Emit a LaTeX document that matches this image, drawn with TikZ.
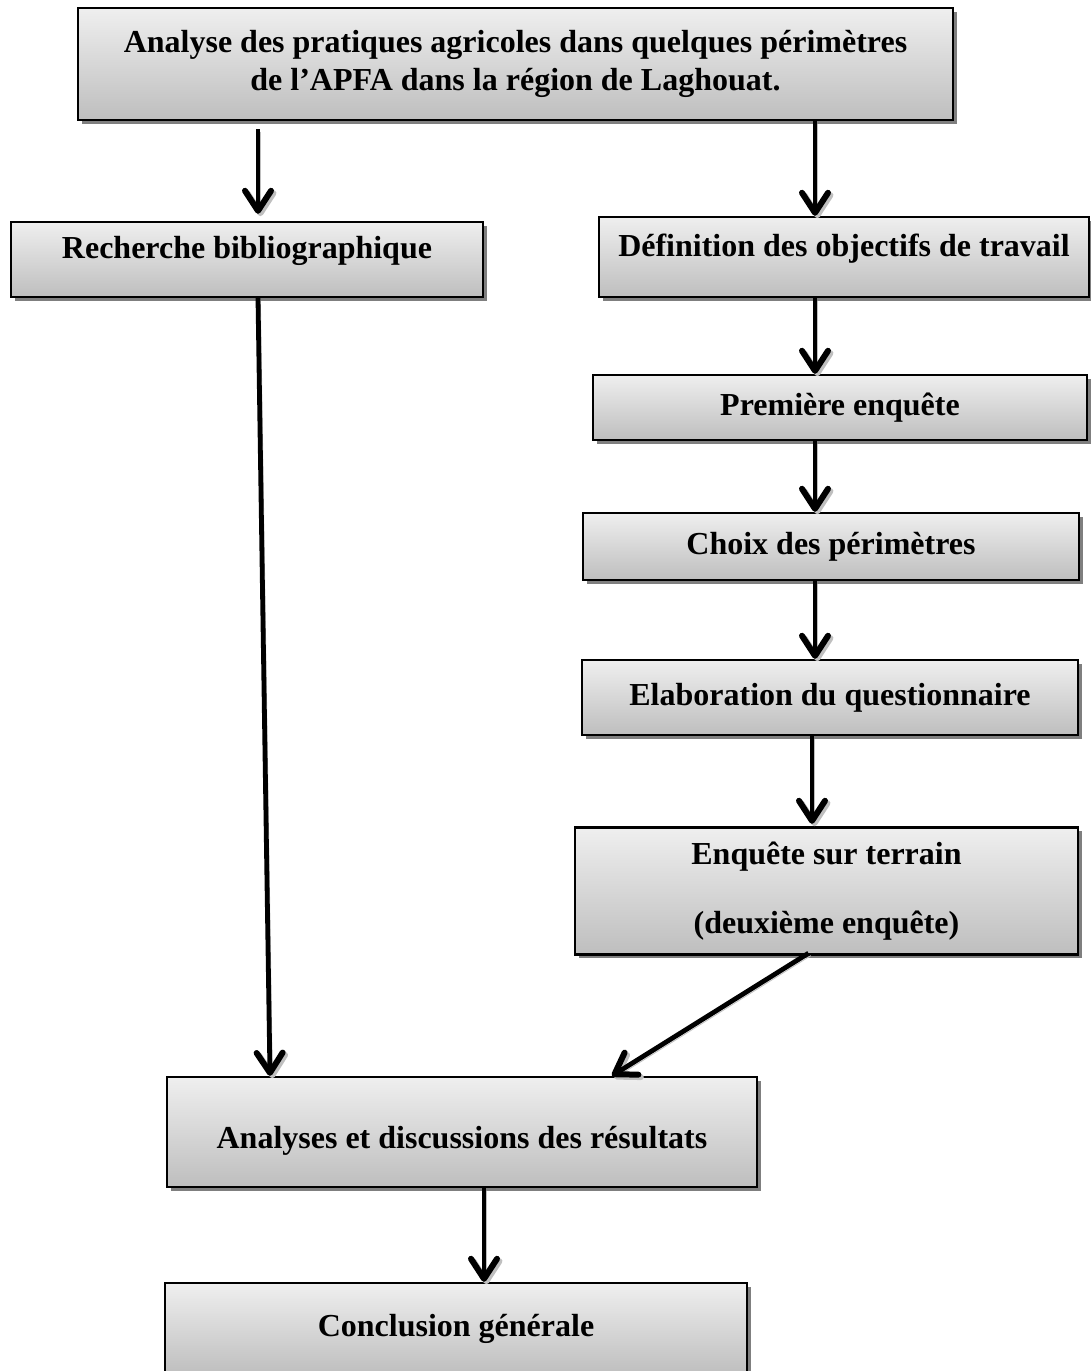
\documentclass[tikz,border=0pt]{standalone}
\usepackage{fontspec}
\setmainfont{Liberation Serif}
\usepackage{tikz}
\usetikzlibrary{arrows.meta, calc, positioning, shadows}
\definecolor{BoxTop}   {HTML}{EFEFEF}
\definecolor{BoxBottom}{HTML}{BEBEBE}
\definecolor{Shade}    {HTML}{7F7F7F}
\tikzset{
  flow/.style={-{Straight Barb[length=10pt,width=13pt,line width=3pt,round]}, line width=2.4pt,
               preaction={draw=black!25, transform canvas={shift={(1.2pt,-1.2pt)}}}},
}

\begin{document}
\begin{tikzpicture}[x=0.5pt, y=-0.5pt,
    font=\fontsize{16}{19.2}\selectfont\bfseries,
    stepbox/.style={draw=black, line width=1.2pt, top color=BoxTop, bottom color=BoxBottom,
                    align=center, inner sep=2pt,
                    drop shadow={shadow xshift=1.8pt, shadow yshift=-1.8pt, fill=Shade, opacity=1}},
    lift/.style={text depth=12pt},
    sink/.style={text height=20pt}]
  \useasboundingbox (0,0) rectangle (1091,1371);
  % Nodes
  \node[stepbox, minimum width=437.5pt, minimum height=56pt]         (titre) at (515.5, 64)
       {Analyse des pratiques agricoles dans quelques périmètres\\de l’APFA dans la région de Laghouat.};
  \node[stepbox, lift, minimum width=236pt, minimum height=37.5pt]   (biblio) at (247, 259.5)
       {Recherche bibliographique};
  \node[stepbox, lift, minimum width=245pt, minimum height=40pt]     (objectifs) at (844, 257)
       {Définition des objectifs de travail};
  \node[stepbox, minimum width=247pt, minimum height=32.5pt]         (enq1) at (840, 407.5)
       {Première enquête};
  \node[stepbox, minimum width=248pt, minimum height=33.5pt]         (choix) at (831, 546.5)
       {Choix des périmètres};
  \node[stepbox, minimum width=248pt, minimum height=37.5pt]         (quest) at (830, 697.5)
       {Elaboration du questionnaire};
  \node[stepbox, minimum width=251.5pt, minimum height=63.5pt]       (enq2) at (826.5, 891)
       {Enquête sur terrain\\[15pt](deuxième enquête)};
  \node[stepbox, sink, minimum width=295pt, minimum height=55pt]     (resultats) at (462, 1132)
       {Analyses et discussions des résultats};
  \node[stepbox, minimum width=291pt, minimum height=46pt]           (conclusion) at (456, 1329)
       {Conclusion générale};
  \coordinate (colR) at (815, 0);
  % Arrows
  \draw[flow] ($(titre.south -| biblio.north)+(5.5pt,-4pt)$) -- ([xshift=5.5pt,yshift=3.5pt]biblio.north);
  \draw[flow] (titre.south -| colR)     -- (objectifs.north -| colR);
  \draw[flow] (objectifs.south -| colR) -- (enq1.north -| colR);
  \draw[flow] (enq1.south -| colR)      -- (choix.north -| colR);
  \draw[flow] (choix.south -| colR)     -- (quest.north -| colR);
  \draw[flow] ([xshift=-1.5pt]quest.south -| colR) -- ([xshift=-1.5pt,yshift=1.25pt]enq2.north -| colR);
  \draw[flow] ([xshift=-9pt,yshift=1.25pt]enq2.south) -- ([xshift=75pt]resultats.north);
  \draw[flow] ([xshift=5.5pt]biblio.south) -- ([xshift=-96pt]resultats.north);
  \draw[flow] ([xshift=11pt]resultats.south) -- ([xshift=14pt]conclusion.north);
\end{tikzpicture}
\end{document}
